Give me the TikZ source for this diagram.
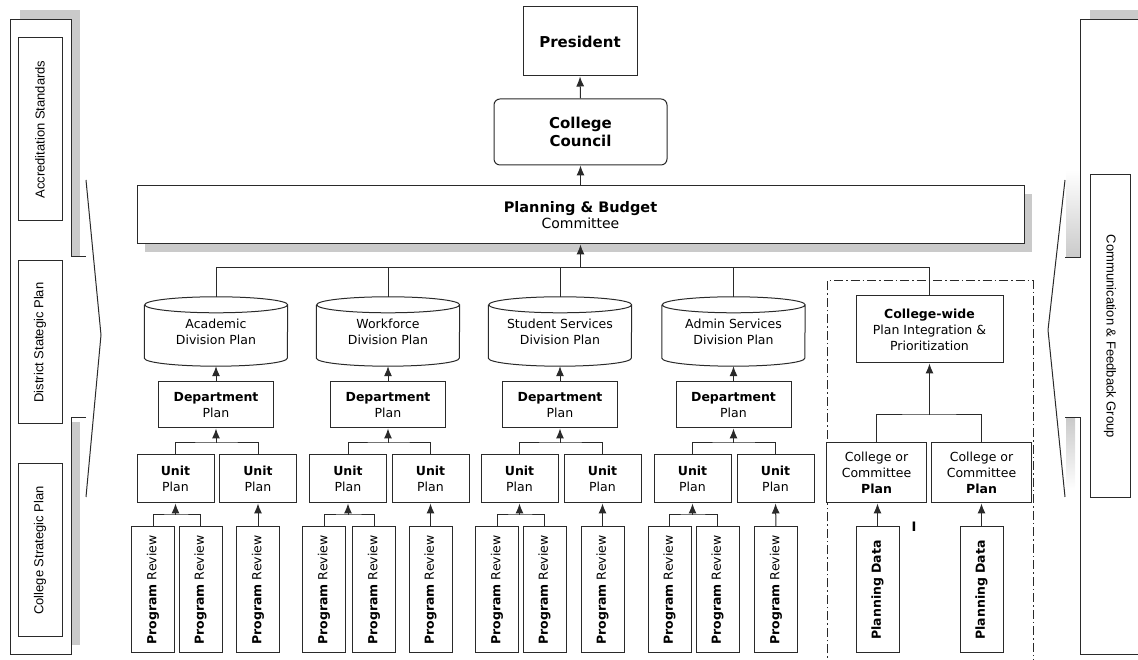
\documentclass[tikz,border=0pt]{standalone}
\usepackage{fontspec}
\setmainfont{DejaVu Sans}
\newfontfamily\sidefont{Liberation Sans}
\usepackage{tikz}
\usetikzlibrary{shadows,arrows.meta}
\definecolor{wirecol}{HTML}{2A2A2A}
\definecolor{shadowgray}{HTML}{CACACA}
\tikzstyle{every node}=[font=\fontsize{12.5}{16}\selectfont,align=center,inner sep=0pt]
\tikzstyle{wire}=[draw=wirecol,line width=1pt]
\tikzstyle{arrowup}=[wire,-{Latex[length=10pt,width=8pt]}]
\tikzstyle{box}=[wire,fill=white]
\tikzstyle{headtext}=[font=\fontsize{15}{18}\selectfont\bfseries]
\tikzstyle{sidebox}=[box,minimum height=44pt,font=\sidefont\fontsize{13}{15}\selectfont]
\tikzstyle{cyl}=[minimum width=143pt,minimum height=69pt]
\tikzstyle{dept}=[box,minimum width=115pt,minimum height=46pt]
\tikzstyle{unit}=[box,minimum width=77pt,minimum height=48pt]
\tikzstyle{prog}=[box,rotate=90,minimum width=126pt,minimum height=43pt]
\tikzstyle{cocbox}=[box,minimum width=100pt,minimum height=60pt]
% outline of a division plan drum
\newcommand{\drum}[1]{%
\draw[wire] ([yshift=-8pt]#1.north west) -- ([yshift=8pt]#1.south west)
  arc[start angle=180,end angle=360,x radius=71.5pt,y radius=8pt]
  -- ([yshift=-8pt]#1.north east)
  arc[start angle=0,end angle=180,x radius=71.5pt,y radius=8pt]
  arc[start angle=180,end angle=360,x radius=71.5pt,y radius=8pt];}

\begin{document}
\begin{tikzpicture}[x=1pt,y=1pt]
\useasboundingbox (0,0) rectangle (1138,660);
% left panel
\fill[shadowgray] (20,640) rectangle (80,650);
\fill[shadowgray] (71,403) rectangle (80,650);
\fill[shadowgray] (71,15) rectangle (80,238);
\draw[wire] (86,242) -- (71,242) -- (71,5) -- (10,5) -- (10,640) -- (71,640) -- (71,403) -- (86,403);
\draw[wire] (86,480) -- (101,325) -- (86,163);
\node[sidebox,rotate=90,minimum width=183pt] (accr) at (40,530.5) {Accreditation Standards};
\node[sidebox,rotate=90,minimum width=163pt] (dist) at (40,317.5) {District Stategic Plan};
\node[sidebox,rotate=90,minimum width=173pt] (cstrat) at (40,109.5) {College Strategic Plan};
% right panel
\fill[shadowgray] (1090,640) rectangle (1138,650);
\shade[top color=white,bottom color=shadowgray] (1066,402) rectangle (1080,490);
\shade[top color=shadowgray,bottom color=white] (1066,170) rectangle (1075,242);
\draw[wire] (1145,640) -- (1080,640) -- (1080,402) -- (1065,402);
\draw[wire] (1065,242) -- (1080,242) -- (1080,5) -- (1145,5);
\draw[wire] (1065,480) -- (1048,330) -- (1065,163);
\node[sidebox,rotate=-90,minimum width=323pt,minimum height=40pt] (comm) at (1110,323.5) {Communication \& Feedback Group};

% top
\node[box,headtext,minimum width=114pt,minimum height=69pt] (pres) at (580,618.5) {President};
\node[box,headtext,rounded corners=6pt,minimum width=173pt,minimum height=66pt] (council) at (580.5,528) {College\\Council};
\node[box,drop shadow={shadow xshift=8pt,shadow yshift=-8pt,fill=shadowgray,opacity=1},minimum width=887pt,minimum height=58pt] (pbc) at (580.5,445)
  {{\fontsize{14.5}{18}\selectfont\bfseries Planning \& Budget}\\{\fontsize{14}{17}\selectfont Committee}};
\draw[arrowup] (council.north) -- (pres.south);
\draw[arrowup] (pbc.north) -- (council.south);

% academic
\node[cyl] (ac) at (216,328.5) {Academic\\Division Plan}; \drum{ac}
\node[dept] (ad) at (216,255) {\textbf{Department}\\Plan};
\node[unit] (au1) at (175.5,181) {\textbf{Unit}\\Plan};
\node[unit] (au2) at (258,181) {\textbf{Unit}\\Plan};
\node[prog] (ap1) at (153,70) {\textbf{Program} Review};
\node[prog] (ap2) at (200.5,70) {\textbf{Program} Review};
\node[prog] (ap3) at (258,70) {\textbf{Program} Review};
\coordinate (ab) at (216,217);
\coordinate (ab1) at (175.5,145);
\draw[arrowup] (ad.north) -- (ac.south);
\draw[wire] (au1.north) |- (ab) -| (au2.north);
\draw[arrowup] (ab) -- (ad.south);
\draw[wire] (ap1.east) |- (ab1) -| (ap2.east);
\draw[arrowup] (ab1) -- (au1.south);
\draw[arrowup] (ap3.east) -- (au2.south);

% workforce
\node[cyl] (wc) at (388,328.5) {Workforce\\Division Plan}; \drum{wc}
\node[dept] (wd) at (388,255) {\textbf{Department}\\Plan};
\node[unit] (wu1) at (348,181) {\textbf{Unit}\\Plan};
\node[unit] (wu2) at (430.5,181) {\textbf{Unit}\\Plan};
\node[prog] (wp1) at (324,70) {\textbf{Program} Review};
\node[prog] (wp2) at (374,70) {\textbf{Program} Review};
\node[prog] (wp3) at (430.5,70) {\textbf{Program} Review};
\coordinate (wb) at (388,217);
\coordinate (wb1) at (348,145);
\draw[arrowup] (wd.north) -- (wc.south);
\draw[wire] (wu1.north) |- (wb) -| (wu2.north);
\draw[arrowup] (wb) -- (wd.south);
\draw[wire] (wp1.east) |- (wb1) -| (wp2.east);
\draw[arrowup] (wb1) -- (wu1.south);
\draw[arrowup] (wp3.east) -- (wu2.south);

% student services
\node[cyl] (sc) at (560,328.5) {Student Services\\Division Plan}; \drum{sc}
\node[dept] (sd) at (560,255) {\textbf{Department}\\Plan};
\node[unit] (su1) at (519.5,181) {\textbf{Unit}\\Plan};
\node[unit] (su2) at (602.5,181) {\textbf{Unit}\\Plan};
\node[prog] (sp1) at (497,70) {\textbf{Program} Review};
\node[prog] (sp2) at (544.5,70) {\textbf{Program} Review};
\node[prog] (sp3) at (602.5,70) {\textbf{Program} Review};
\coordinate (sb) at (560,217);
\coordinate (sb1) at (519.5,145);
\draw[arrowup] (sd.north) -- (sc.south);
\draw[wire] (su1.north) |- (sb) -| (su2.north);
\draw[arrowup] (sb) -- (sd.south);
\draw[wire] (sp1.east) |- (sb1) -| (sp2.east);
\draw[arrowup] (sb1) -- (su1.south);
\draw[arrowup] (sp3.east) -- (su2.south);

% admin services
\node[cyl] (mc) at (733.5,328.5) {Admin Services\\Division Plan}; \drum{mc}
\node[dept] (md) at (733.5,255) {\textbf{Department}\\Plan};
\node[unit] (mu1) at (692.5,181) {\textbf{Unit}\\Plan};
\node[unit] (mu2) at (775.5,181) {\textbf{Unit}\\Plan};
\node[prog] (mp1) at (669.5,70) {\textbf{Program} Review};
\node[prog] (mp2) at (717.5,70) {\textbf{Program} Review};
\node[prog] (mp3) at (776,70) {\textbf{Program} Review};
\coordinate (mb) at (733.5,217);
\coordinate (mb1) at (692.5,145);
\draw[arrowup] (md.north) -- (mc.south);
\draw[wire] (mu1.north) |- (mb) -| (mu2.north);
\draw[arrowup] (mb) -- (md.south);
\draw[wire] (mp1.east) |- (mb1) -| (mp2.east);
\draw[arrowup] (mb1) -- (mu1.south);
\draw[arrowup] (mp3.east) -- (mu2.south);

% college-wide group
\draw[wirecol,line width=1pt,dash pattern=on 9pt off 3pt on 1.5pt off 3pt] (827,-10) -- (827,379) -- (1033,379) -- (1033,-10);
\node[box,minimum width=147pt,minimum height=67pt] (cwide) at (929.5,330.5) {\textbf{College-wide}\\Plan Integration \&\\Prioritization};
\node[cocbox] (coc1) at (876.5,187) {College or\\Committee\\\textbf{Plan}};
\node[cocbox] (coc2) at (981.5,187) {College or\\Committee\\\textbf{Plan}};
\node[prog] (pd1) at (877.5,70) {\textbf{Planning Data}};
\node[prog] (pd2) at (981.5,70) {\textbf{Planning Data}};
\node[font=\fontsize{13}{15}\selectfont\bfseries] (mark) at (914,133) {I};
\coordinate (cb) at (929.5,245);
\draw[wire] (coc1.north) |- (cb) -| (coc2.north);
\draw[arrowup] (cb) -- (cwide.south);
\draw[arrowup] (pd1.east) -- (pd1.east |- coc1.south);
\draw[arrowup] (pd2.east) -- (coc2.south);

% bus to planning & budget
\coordinate (busl) at (216,392);
\coordinate (busr) at (929.5,392);
\coordinate (busm) at (580.5,392);
\draw[wire] (ac.north) -- (busl) -- (busr) -- (cwide.north);
\draw[wire] (wc.north) -- (wc.north |- busl);
\draw[wire] (sc.north) -- (sc.north |- busl);
\draw[wire] (mc.north) -- (mc.north |- busl);
\draw[arrowup] (busm) -- (pbc.south);
\end{tikzpicture}
\end{document}
